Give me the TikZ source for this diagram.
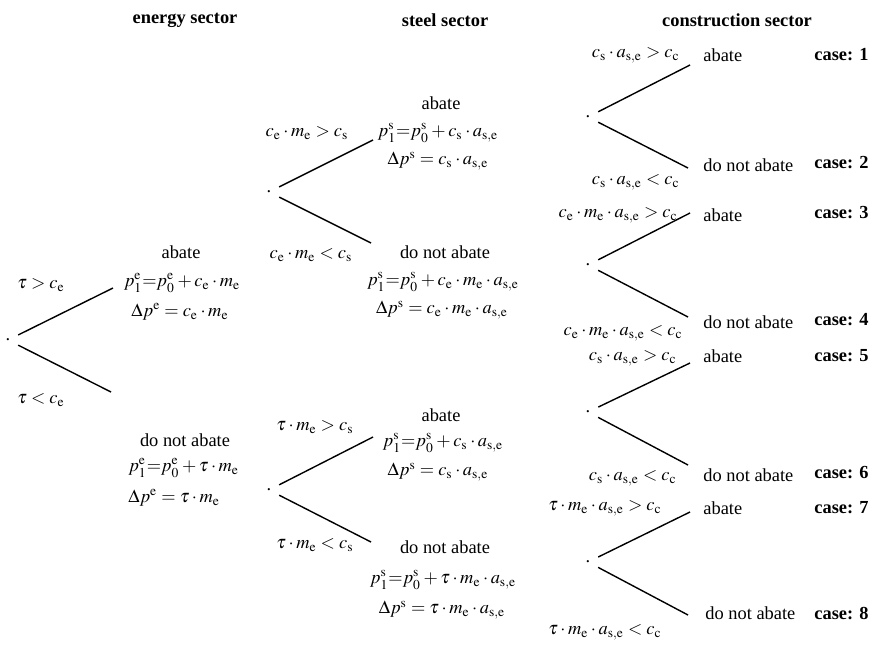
\documentclass[tikz,border=0pt]{standalone}
\usepackage{mathptmx}
\usepackage[no-math]{fontspec}
\setmainfont{Liberation Serif}
\newcommand{\Ue}{\mathrm{e}}
\newcommand{\Us}{\mathrm{s}}
\newcommand{\Use}{\mathrm{s,e}}
\begin{document}
\begin{tikzpicture}[x=0.5pt,y=-0.5pt,
  font=\fontsize{9.2}{11}\selectfont,
  lbl/.style={inner sep=0pt},
  ttl/.style={inner sep=0pt,font=\fontsize{9.2}{11}\selectfont\bfseries},
  fork/.style={circle,inner sep=0pt,minimum size=11pt},
  branch/.style={line width=0.7pt}]
\useasboundingbox (0,0) rectangle (881,654);

% titles
\node[ttl] (tE) at (185,20) {energy sector};
\node[ttl] (tS) at (445,20) {steel sector};
\node[ttl] (tC) at (737,20) {construction sector};

% energy fork
\node[fork] (fE) at (8,340) {.};
\coordinate (fEu) at (113,288);
\coordinate (fEl) at (111,392);
\draw[branch] (fE) -- (fEu);
\draw[branch] (fE) -- (fEl);
\node[lbl] (cEu) at (41,285) {$\tau > c_\Ue$};
\node[lbl] (cEl) at (41,400) {$\tau < c_\Ue$};
\node[lbl] (eA) at (181,252) {abate};
\node[lbl] (eA1) at (182,283) {$p^\Ue_1{=}p^\Ue_0 + c_\Ue\cdot m_\Ue$};
\node[lbl] (eA2) at (180,312) {$\Delta p^\Ue = c_\Ue\cdot m_\Ue$};
\node[lbl] (eN) at (185,440) {do not abate};
\node[lbl,anchor=west] (eN1) at (128,468) {$p^\Ue_1{=}p^\Ue_0 + \tau\cdot m_\Ue$};
\node[lbl,anchor=west] (eN2) at (128,498) {$\Delta p^\Ue = \tau\cdot m_\Ue$};

% steel fork 1
\node[fork] (fS1) at (269,192) {.};
\coordinate (fS1u) at (373,140);
\coordinate (fS1l) at (371,243);
\draw[branch] (fS1) -- (fS1u);
\draw[branch] (fS1) -- (fS1l);
\node[lbl] (cS1u) at (307,133) {$c_\Ue\cdot m_\Ue > c_\Us$};
\node[lbl] (cS1l) at (311,255) {$c_\Ue\cdot m_\Ue < c_\Us$};
\node[lbl] (s1A) at (441,103) {abate};
\node[lbl] (s1A1) at (438,133) {$p^\Us_1{=}p^\Us_0 + c_\Us\cdot a_\Use$};
\node[lbl] (s1A2) at (438,161) {$\Delta p^\Us = c_\Us\cdot a_\Use$};
\node[lbl] (s1N) at (445,252) {do not abate};
\node[lbl] (s1N1) at (443,282) {$p^\Us_1{=}p^\Us_0 + c_\Ue\cdot m_\Ue\cdot a_\Use$};
\node[lbl] (s1N2) at (442,310) {$\Delta p^\Us = c_\Ue\cdot m_\Ue\cdot a_\Use$};

% steel fork 2
\node[fork] (fS2) at (269,490) {.};
\coordinate (fS2u) at (373,437);
\coordinate (fS2l) at (371,542);
\draw[branch] (fS2) -- (fS2u);
\draw[branch] (fS2) -- (fS2l);
\node[lbl] (cS2u) at (315,427) {$\tau\cdot m_\Ue > c_\Us$};
\node[lbl] (cS2l) at (315,545) {$\tau\cdot m_\Ue < c_\Us$};
\node[lbl] (s2A) at (441,415) {abate};
\node[lbl] (s2A1) at (443,443) {$p^\Us_1{=}p^\Us_0 + c_\Us\cdot a_\Use$};
\node[lbl] (s2A2) at (438,472) {$\Delta p^\Us = c_\Us\cdot a_\Use$};
\node[lbl] (s2N) at (445,547) {do not abate};
\node[lbl] (s2N1) at (443,580) {$p^\Us_1{=}p^\Us_0 + \tau\cdot m_\Ue\cdot a_\Use$};
\node[lbl] (s2N2) at (442,610) {$\Delta p^\Us = \tau\cdot m_\Ue\cdot a_\Use$};

% construction forks
\node[fork] (fC1) at (588,117) {.};
\coordinate (fC1u) at (690,65);
\coordinate (fC1l) at (688,168);
\draw[branch] (fC1) -- (fC1u);
\draw[branch] (fC1) -- (fC1l);
\node[fork] (fC2) at (588,265) {.};
\coordinate (fC2u) at (690,213);
\coordinate (fC2l) at (688,317);
\draw[branch] (fC2) -- (fC2u);
\draw[branch] (fC2) -- (fC2l);
\node[fork] (fC3) at (588,412) {.};
\coordinate (fC3u) at (690,363);
\coordinate (fC3l) at (688,465);
\draw[branch] (fC3) -- (fC3u);
\draw[branch] (fC3) -- (fC3l);
\node[fork] (fC4) at (588,562) {.};
\coordinate (fC4u) at (690,512);
\coordinate (fC4l) at (688,615);
\draw[branch] (fC4) -- (fC4u);
\draw[branch] (fC4) -- (fC4l);

% construction conditions
\node[lbl,anchor=east] (cC1u) at (680,55) {$c_\Us\cdot a_\Use > c_\mathrm{c}$};
\node[lbl,anchor=east] (cC1l) at (680,182) {$c_\Us\cdot a_\Use < c_\mathrm{c}$};
\node[lbl,anchor=east] (cC2u) at (678,215) {$c_\Ue\cdot m_\Ue\cdot a_\Use > c_\mathrm{c}$};
\node[lbl,anchor=east] (cC2l) at (683,333) {$c_\Ue\cdot m_\Ue\cdot a_\Use < c_\mathrm{c}$};
\node[lbl,anchor=east] (cC3u) at (677,358) {$c_\Us\cdot a_\Use > c_\mathrm{c}$};
\node[lbl,anchor=east] (cC3l) at (677,478) {$c_\Us\cdot a_\Use < c_\mathrm{c}$};
\node[lbl,anchor=east] (cC4u) at (662,508) {$\tau\cdot m_\Ue\cdot a_\Use > c_\mathrm{c}$};
\node[lbl,anchor=east] (cC4l) at (662,632) {$\tau\cdot m_\Ue\cdot a_\Use < c_\mathrm{c}$};

% outcomes
\node[lbl,anchor=west] (o1) at (703,55) {abate};
\node[lbl,anchor=west] (o2) at (703,165) {do not abate};
\node[lbl,anchor=west] (o3) at (703,215) {abate};
\node[lbl,anchor=west] (o4) at (703,322) {do not abate};
\node[lbl,anchor=west] (o5) at (703,356) {abate};
\node[lbl,anchor=west] (o6) at (703,475) {do not abate};
\node[lbl,anchor=west] (o7) at (703,508) {abate};
\node[lbl,anchor=west] (o8) at (705,613) {do not abate};

% cases
\node[ttl,anchor=east] (k1) at (869,55) {case: 1};
\node[ttl,anchor=east] (k2) at (869,163) {case: 2};
\node[ttl,anchor=east] (k3) at (869,213) {case: 3};
\node[ttl,anchor=east] (k4) at (869,320) {case: 4};
\node[ttl,anchor=east] (k5) at (869,356) {case: 5};
\node[ttl,anchor=east] (k6) at (869,473) {case: 6};
\node[ttl,anchor=east] (k7) at (869,508) {case: 7};
\node[ttl,anchor=east] (k8) at (869,613) {case: 8};
\end{tikzpicture}
\end{document}
